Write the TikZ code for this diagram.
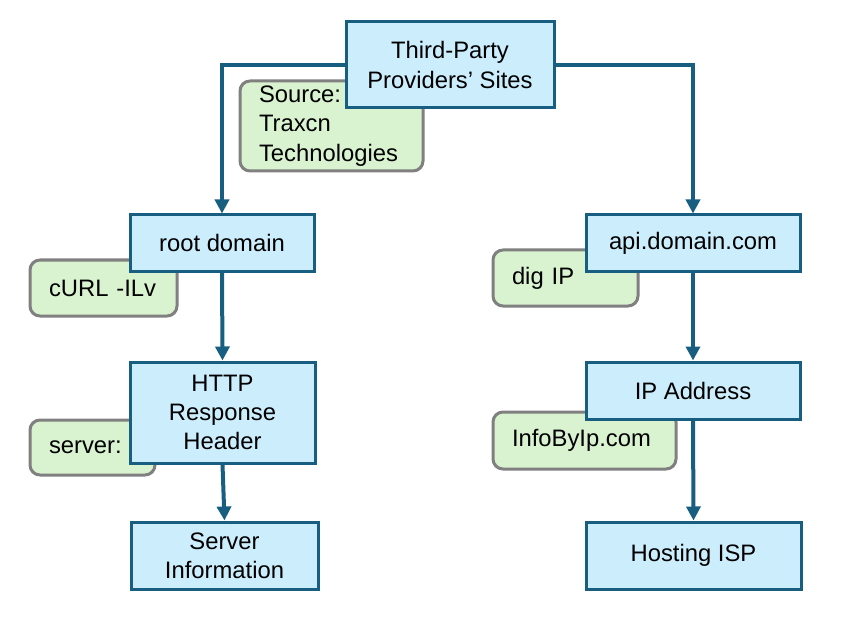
\documentclass[tikz,border=0pt]{standalone}
\usepackage{fontspec}
\setmainfont{Liberation Sans}
\usetikzlibrary{arrows.meta}

\definecolor{boxblue}{RGB}{204,238,252}
\definecolor{edgeblue}{RGB}{24,94,128}
\definecolor{notegreen}{RGB}{217,242,208}
\definecolor{notegray}{RGB}{128,128,128}

\tikzset{
  stepnode/.style={draw=edgeblue, line width=1.5pt, fill=boxblue, align=center,
    inner sep=2pt, font=\fontsize{11.9}{14.6}\selectfont},
  notenode/.style={draw=notegray, line width=1.5pt, fill=notegreen, rounded corners=5pt,
    align=left, inner xsep=9.5pt, inner ysep=2pt, font=\fontsize{11.9}{14.6}\selectfont},
  link/.style={draw=edgeblue, line width=2pt, -{Triangle[width=7pt,length=7pt]}}
}

\begin{document}
\begin{tikzpicture}[x=0.5pt, y=-0.5pt]

        \useasboundingbox (0,0) rectangle (847,631);

        % --- Notes (behind the boxes) ---
        \node[notenode, text width=72.5pt, minimum height=45pt] (source) at (331.5,126)
            {Source:\\Traxcn\\Technologies};
        \node[notenode, text width=54.5pt, minimum height=28pt] (curl) at (103.5,288) {cURL -ILv};
        \node[notenode, text width=43.5pt, minimum height=27.5pt] (srv) at (92.5,447.5) {server:};
        \node[notenode, text width=53.5pt, minimum height=28pt] (dig) at (565.5,278) {dig IP};
        \node[notenode, text width=72.5pt, minimum height=28.5pt] (infobyip) at (584.5,440.5) {InfoByIp.com};

        % --- Steps ---
        \node[stepnode, minimum width=104pt, minimum height=43pt] (sites) at (450,65)
            {Third-Party\\Providers’ Sites};
        \node[stepnode, minimum width=92pt, minimum height=28pt] (root) at (222,243) {root domain};
        \node[stepnode, minimum width=92.5pt, minimum height=50.5pt] (header) at (222.5,412.5)
            {HTTP\\Response\\Header};
        \node[stepnode, minimum width=93.5pt, minimum height=33.5pt] (serverinfo) at (224.5,555.5)
            {Server\\Information};
        \node[stepnode, minimum width=107pt, minimum height=28pt] (api) at (693,243) {api.domain.com};
        \node[stepnode, minimum width=107pt, minimum height=28.5pt] (ipaddr) at (693,390.5) {IP Address};
        \node[stepnode, minimum width=107.5pt, minimum height=33.5pt] (isp) at (693.5,555.5) {Hosting ISP};

        % --- Connectors ---
        \draw[link] (sites.west) -| (root.north);
        \draw[link] (sites.east) -| (api.north);
        \draw[link] (root.south) -- (header.north);
        \draw[link] (header.south) -- (serverinfo.north);
        \draw[link] (api.south) -- (ipaddr.north);
        \draw[link] (ipaddr.south) -- (isp.north);

\end{tikzpicture}
\end{document}
